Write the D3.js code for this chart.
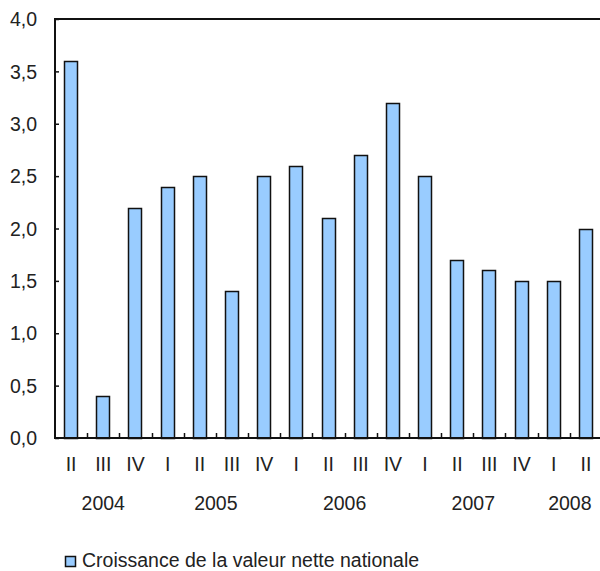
<!DOCTYPE html>
<html>
<head>
<meta charset="utf-8">
<script src="https://cdn.jsdelivr.net/npm/d3@7"></script>
<style>
  html, body { margin: 0; padding: 0; background: #fff; }
  svg { display: block; }
  text { font-family: "Liberation Sans", Arial, sans-serif; fill: #222; }
</style>
</head>
<body>
<svg id="chart" width="600" height="571"></svg>
<script>
const quarters = ["II","III","IV","I","II","III","IV","I","II","III","IV","I","II","III","IV","I","II"];
const years = ["2004","2004","2004","2005","2005","2005","2005","2006","2006","2006","2006","2007","2007","2007","2007","2008","2008"];
const values = [3.6,0.4,2.2,2.4,2.5,1.4,2.5,2.6,2.1,2.7,3.2,2.5,1.7,1.6,1.5,1.5,2.0];
const yTicks = [0,0.5,1,1.5,2,2.5,3,3.5,4];
const yearLabels = ["2004","2005","2006","2007","2008"];
const seriesName = "Croissance de la valeur nette nationale";

(function () {
const svg = d3.select("#chart");
const pL = 55, pR = 602, pT = 19, pB = 438;
const idx = values.map((d, i) => i);

const x = d3.scaleBand().domain(idx).range([pL, pR]).paddingInner(0.565).paddingOuter(0.2825);
const xb = d3.scaleBand().domain(idx).range([pL, pR]).padding(0);
const y = d3.scaleLinear().domain([0, 4]).range([pB, pT]);

const fmt = d => d3.format(".1f")(d).replace(".", ",");
const fs = 19.5;

// bars
svg.append("g").selectAll("rect").data(values).join("rect")
  .attr("x", (d, i) => Math.round(x(i)) + 0.5)
  .attr("y", d => Math.round(y(d)) + 0.5)
  .attr("width", Math.round(x.bandwidth()) - 1)
  .attr("height", d => Math.round(y(0)) - Math.round(y(d)))
  .attr("fill", "#99ccff")
  .attr("stroke", "#111")
  .attr("stroke-width", 1.5);

// top border
svg.append("line").attr("x1", pL).attr("x2", 600).attr("y1", pT).attr("y2", pT)
  .attr("stroke", "#111").attr("stroke-width", 2);

// y axis
const yAxis = d3.axisRight(y).tickValues(yTicks).tickSize(4).tickFormat("");
const gy = svg.append("g").attr("transform", `translate(${pL},0)`).call(yAxis);
gy.select(".domain").remove();
gy.selectAll(".tick line").attr("stroke", "#111").attr("stroke-width", 1.5);
svg.append("line").attr("x1", pL).attr("x2", pL).attr("y1", pT - 1).attr("y2", pB + 1)
  .attr("stroke", "#111").attr("stroke-width", 2);
svg.append("g").selectAll("text").data(yTicks).join("text")
  .attr("x", 37).attr("y", d => y(d) + 2)
  .attr("text-anchor", "end").attr("dominant-baseline", "middle")
  .attr("font-size", fs).text(fmt);

// x axis
const boundaries = idx.slice(1).map(i => xb(i));
svg.append("g").selectAll("line").data(boundaries).join("line")
  .attr("x1", d => Math.round(d) + 0.5).attr("x2", d => Math.round(d) + 0.5)
  .attr("y1", pB).attr("y2", pB - 5)
  .attr("stroke", "#111").attr("stroke-width", 1.5);
svg.append("line").attr("x1", pL).attr("x2", 600).attr("y1", pB).attr("y2", pB)
  .attr("stroke", "#111").attr("stroke-width", 2);

// quarter labels
svg.append("g").selectAll("text").data(quarters).join("text")
  .attr("x", (d, i) => xb(i) + xb.bandwidth() / 2)
  .attr("y", 471)
  .attr("text-anchor", "middle")
  .attr("font-size", fs).text(d => d);

// year labels centered on their quarters
svg.append("g").selectAll("text").data(yearLabels).join("text")
  .attr("x", yr => {
    const ids = idx.filter(i => years[i] === yr);
    return (xb(ids[0]) + xb(ids[ids.length - 1]) + xb.bandwidth()) / 2;
  })
  .attr("y", 510)
  .attr("text-anchor", "middle")
  .attr("font-size", fs).text(d => d);

// legend
const lg = svg.append("g");
lg.append("rect").attr("x", 65.5).attr("y", 556.5).attr("width", 10).attr("height", 10)
  .attr("fill", "#99ccff").attr("stroke", "#111").attr("stroke-width", 1.5);
lg.append("text").attr("x", 82).attr("y", 567).attr("font-size", fs).text(seriesName);
})();
</script>
</body>
</html>
